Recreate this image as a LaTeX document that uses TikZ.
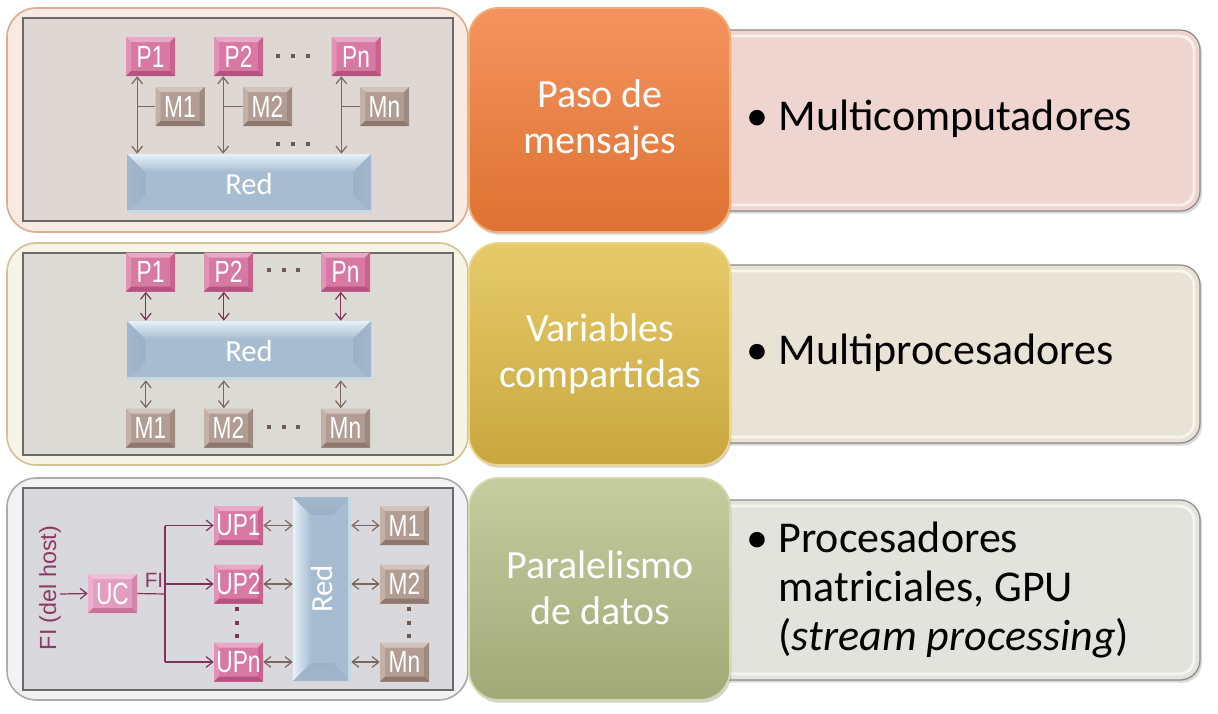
\documentclass[tikz,border=0pt]{standalone}
\usepackage{fontspec}
\setmainfont{Carlito}
\newfontfamily\arialn[FakeStretch=0.74]{Liberation Sans}
\newfontfamily\arialf{Liberation Sans}
\usetikzlibrary{arrows.meta,shadows,calc}
% colours
\definecolor{orT}{HTML}{F5935F}\definecolor{orB}{HTML}{DD7232}\definecolor{orRim}{HTML}{F2AE72}
\definecolor{yeT}{HTML}{E6CA6A}\definecolor{yeB}{HTML}{C9A73F}\definecolor{yeRim}{HTML}{EDD68A}
\definecolor{grT}{HTML}{C5CDA0}\definecolor{grB}{HTML}{A0A977}\definecolor{grRim}{HTML}{D3DAB2}
\definecolor{rPink}{HTML}{EED5CF}\definecolor{rBeige}{HTML}{E9E3D6}\definecolor{rGray}{HTML}{E2E3DC}
\definecolor{rBorder}{HTML}{8E8885}
\definecolor{oA}{HTML}{F8E9E2}\definecolor{oAb}{HTML}{DEAA90}
\definecolor{oB}{HTML}{F6F3E7}\definecolor{oBb}{HTML}{CFC293}
\definecolor{oC}{HTML}{F1F2F3}\definecolor{oCb}{HTML}{ABABAD}
\definecolor{iA}{HTML}{DED7D3}\definecolor{iB}{HTML}{DCDAD4}\definecolor{iC}{HTML}{D9D8DC}
\definecolor{iBorder}{HTML}{6A6A6A}
\definecolor{pkF}{HTML}{D879A3}\definecolor{pkT}{HTML}{E9A8C5}\definecolor{pkL}{HTML}{E093B6}\definecolor{pkR}{HTML}{C8628F}\definecolor{pkB}{HTML}{B65280}
\definecolor{ucF}{HTML}{E39DC0}\definecolor{ucT}{HTML}{F0C0D6}\definecolor{ucL}{HTML}{EAB0CB}\definecolor{ucR}{HTML}{D486AC}\definecolor{ucB}{HTML}{C97499}
\definecolor{bnF}{HTML}{B19D93}\definecolor{bnT}{HTML}{D2C4BC}\definecolor{bnL}{HTML}{C3B1A8}\definecolor{bnR}{HTML}{9F8A80}\definecolor{bnB}{HTML}{8E786E}
\definecolor{blF}{HTML}{A8BCD1}\definecolor{blHi}{HTML}{E6F1F9}\definecolor{blS}{HTML}{9CB1C8}\definecolor{blS2}{HTML}{A2B6CC}\definecolor{blEdge}{HTML}{C8D7E6}
\definecolor{brArr}{HTML}{7D675D}\definecolor{mgArr}{HTML}{7E3459}\definecolor{fiC}{HTML}{8B3A64}
\definecolor{dotBr}{HTML}{6F5A50}
\newcommand\mydotrow[1]{\rule{3pt}{3pt}\hspace{#1}\rule{3pt}{3pt}\hspace{#1}\rule{3pt}{3pt}}
\tikzset{
  >={Straight Barb[length=5pt,width=8pt]},
  bevel/.style n args={5}{path picture={
      \path (path picture bounding box.north west) coordinate (bvA)
            (path picture bounding box.north east) coordinate (bvB)
            (path picture bounding box.south east) coordinate (bvC)
            (path picture bounding box.south west) coordinate (bvD);
      \path ([shift={(#1,-#1)}]bvA) coordinate (bva)
            ([shift={(-#1,-#1)}]bvB) coordinate (bvb)
            ([shift={(-#1,#1)}]bvC) coordinate (bvc)
            ([shift={(#1,#1)}]bvD) coordinate (bvd);
      \fill[#2] (bvA)--(bvB)--(bvb)--(bva)--cycle;
      \fill[#3] (bvA)--(bva)--(bvd)--(bvD)--cycle;
      \fill[#4] (bvB)--(bvC)--(bvc)--(bvb)--cycle;
      \fill[#5] (bvD)--(bvC)--(bvc)--(bvd)--cycle;
  }},
  redbevH/.style={path picture={
      \path (path picture bounding box.north west) coordinate (bvA)
            (path picture bounding box.north east) coordinate (bvB)
            (path picture bounding box.south east) coordinate (bvC)
            (path picture bounding box.south west) coordinate (bvD);
      \path ([shift={(#1,-#1)}]bvA) coordinate (bva)
            ([shift={(-#1,-#1)}]bvB) coordinate (bvb)
            ([shift={(-#1,#1)}]bvC) coordinate (bvc)
            ([shift={(#1,#1)}]bvD) coordinate (bvd);
      \shade[top color=blHi, bottom color=blF] (bvA)--(bvB)--(bvb)--(bva)--cycle;
      \shade[left color=blS2, right color=blS] (bvA)--(bva)--(bvd)--(bvD)--cycle;
      \shade[left color=blS, right color=blS2] (bvB)--(bvC)--(bvc)--(bvb)--cycle;
      \fill[blEdge] (bvD)--(bvC)--([yshift=2pt]bvC)--([yshift=2pt]bvD)--cycle;
  }},
  redbevV/.style={path picture={
      \path (path picture bounding box.north west) coordinate (bvA)
            (path picture bounding box.north east) coordinate (bvB)
            (path picture bounding box.south east) coordinate (bvC)
            (path picture bounding box.south west) coordinate (bvD);
      \path ([shift={(#1,-#1)}]bvA) coordinate (bva)
            ([shift={(-#1,-#1)}]bvB) coordinate (bvb)
            ([shift={(-#1,#1)}]bvC) coordinate (bvc)
            ([shift={(#1,#1)}]bvD) coordinate (bvd);
      \shade[left color=blHi, right color=blF] (bvA)--(bva)--(bvd)--(bvD)--cycle;
      \shade[top color=blS2, bottom color=blS] (bvA)--(bvB)--(bvb)--(bva)--cycle;
      \shade[top color=blS, bottom color=blS2] (bvD)--(bvC)--(bvc)--(bvd)--cycle;
      \fill[blEdge] (bvB)--(bvC)--([xshift=-2pt]bvC)--([xshift=-2pt]bvB)--cycle;
  }},
  bx/.style={rectangle, inner sep=0pt, minimum width=36.75pt, minimum height=29.25pt,
             text=white, font=\arialn\fontsize{23}{23}\selectfont},
  pbox/.style={bx, fill=pkF, bevel={3.75pt}{pkT}{pkL}{pkR}{pkB}},
  ucbox/.style={bx, fill=ucF, bevel={3.75pt}{ucT}{ucL}{ucR}{ucB}},
  mbox/.style={bx, fill=bnF, bevel={3.75pt}{bnT}{bnL}{bnR}{bnB}},
  redh/.style={rectangle, inner sep=0pt, minimum width=183pt, minimum height=44.25pt,
             fill=blF, redbevH={13.5pt}, text=white, font=\fontsize{23}{23}\selectfont},
  redv/.style={rectangle, inner sep=0pt, minimum width=43.5pt, minimum height=138pt,
             fill=blF, redbevV={13.5pt}, text=white, font=\fontsize{23}{23}\selectfont},
  arr/.style={line width=0.9pt, draw=#1},
  dotn/.style={inner sep=0pt, text=#1},
  outerp/.style={rounded corners=22pt, line width=1.2pt},
  innerp/.style={draw=iBorder, line width=1.6pt},
  mid/.style={rounded corners=22pt, draw=#1, line width=1.4pt,
              drop shadow={opacity=0.35, shadow xshift=1pt, shadow yshift=-2pt}},
  midtxt/.style={text=white, align=center, font=\fontsize{30}{34.5}\selectfont},
  rbox/.style={rounded corners=15pt, draw=rBorder, line width=0.9pt,
              drop shadow={opacity=0.3, shadow xshift=1.5pt, shadow yshift=-2pt}},
  rglow/.style={rounded corners=11pt, draw=white, opacity=0.65, line width=2.2pt},
  rtxt/.style={anchor=west, align=left, text=black, font=\fontsize{33}{36.4}\selectfont},
}
\begin{document}
\begin{tikzpicture}[x=0.75pt,y=-0.75pt]
\useasboundingbox (0,0) rectangle (1218,714);

% ---------- left panels ----------
\path[outerp, fill=oA, draw=oAb] (7,8) rectangle (468,232);
\path[innerp, fill=iA] (23,18) rectangle (453,221);
\path[outerp, fill=oB, draw=oBb] (7,243) rectangle (468,465);
\path[innerp, fill=iB] (23,253) rectangle (453,455);
\path[outerp, fill=oC, draw=oCb] (7,478) rectangle (468,700);
\path[innerp, fill=iC] (23,488) rectangle (453,690);

% ---------- right boxes ----------
\path[rbox, fill=rPink] (700,30) rectangle (1200,211);
\path[rglow] (706,36) rectangle (1194,205);
\path[rbox, fill=rBeige] (700,265) rectangle (1200,443);
\path[rglow] (706,271) rectangle (1194,437);
\path[rbox, fill=rGray] (700,500) rectangle (1200,680);
\path[rglow] (706,506) rectangle (1194,674);

% ---------- middle boxes ----------
\path[mid=orRim, top color=orT, bottom color=orB] (469,8) rectangle (730,232);
\path[mid=yeRim, top color=yeT, bottom color=yeB] (469,243) rectangle (730,465);
\path[mid=grRim, top color=grT, bottom color=grB] (469,478) rectangle (730,700);

\node[midtxt] (t1) at (600,120) {Paso de\\mensajes};
\node[midtxt] (t2) at (600,354) {Variables\\compartidas};
\node[midtxt] (t3) at (600,588) {Paralelismo\\de datos};

\node[rtxt] (r1) at (742,119) {• Multicomputadores};
\node[rtxt] (r2) at (742,353) {• Multiprocesadores};
\node[rtxt] (r3) at (742,590) {• Procesadores\\\hphantom{• }matriciales, GPU\\\hphantom{• }(\textit{stream processing})};

% ---------- panel 1: paso de mensajes ----------
\node[pbox] (aP1) at (150.5,56.5) {P1};
\node[pbox] (aP2) at (238.5,56.5) {P2};
\node[pbox] (aPn) at (356,56.5) {Pn};
\node[mbox] (aM1) at (180,106.5) {M1};
\node[mbox] (aM2) at (267.5,106.5) {M2};
\node[mbox] (aMn) at (384.5,106.5) {Mn};
\node[redh] (aR) at (249,183.5) {Red};
\node[dotn=dotBr] (ad1) at (293,56) {\mydotrow{8pt}};
\node[dotn=dotBr] (ad2) at (293,144) {\mydotrow{8pt}};
\coordinate (a1) at ([xshift=-10pt]aP1.south);
\coordinate (a2) at ([xshift=-11.5pt]aP2.south);
\coordinate (a3) at ([xshift=-11pt]aPn.south);
\foreach \c/\m in {a1/aM1,a2/aM2,a3/aMn}{
  \draw[arr=brArr,<->] (\c) -- (\c |- aR.north);
  \draw[arr=brArr] (\m.west) -- (\m.west -| \c);
}

% ---------- panel 2: variables compartidas ----------
\node[pbox] (bP1) at (150.5,272) {P1};
\node[pbox] (bP2) at (228.5,272) {P2};
\node[pbox] (bPn) at (345.5,272) {Pn};
\node[redh] (bR) at (249,350.5) {Red};
\node[mbox] (bM1) at (150.5,428) {M1};
\node[mbox] (bM2) at (228.5,428) {M2};
\node[mbox] (bMn) at (345.5,428) {Mn};
\node[dotn=dotBr] (bd1) at (283.5,270) {\mydotrow{8pt}};
\node[dotn=dotBr] (bd2) at (283.5,427) {\mydotrow{8pt}};
\foreach \p/\m in {bP1/bM1,bP2/bM2,bPn/bMn}{
  \draw[arr=mgArr,<->] ([xshift=-3.5pt]\p.south) -- ([xshift=-3.5pt]\p.south |- bR.north);
  \draw[arr=brArr,<->] ([xshift=-3.5pt]\m.north |- bR.south) -- ([xshift=-3.5pt]\m.north);
}

% ---------- panel 3: paralelismo de datos ----------
\node[text=fiC, inner sep=0pt, font=\arialf\fontsize{17.5}{17.5}\selectfont] (cFI) at (50,588) {\rotatebox{90}{FI (del host)}};
\node[ucbox] (cUC) at (112.5,593.5) {UC};
\node[text=fiC, inner sep=0pt, font=\arialf\fontsize{15.5}{15.5}\selectfont] (cFIl) at (154,580) {FI};
\node[pbox] (cU1) at (238.5,525.5) {UP1};
\node[pbox] (cU2) at (238.5,584) {UP2};
\node[pbox] (cUn) at (238.5,662) {UPn};
\node[redv] (cR) at (322,589) {\rotatebox{90}{Red}};
\node[mbox] (cM1) at (404.5,525.5) {M1};
\node[mbox] (cM2) at (404.5,584) {M2};
\node[mbox] (cMn) at (404.5,662) {Mn};
\node[dotn=mgArr] (cd1) at (237,622.5) {\rotatebox{90}{\mydotrow{7pt}}};
\node[dotn=dotBr] (cd2) at (409,622.5) {\rotatebox{90}{\mydotrow{7pt}}};
\coordinate (cin) at (60,594);
\coordinate (cj) at (165,594);
\coordinate (cjt) at (165,525.5);
\coordinate (cjb) at (165,662);
\draw[arr=mgArr,->] (cin) -- (cUC.west);
\draw[arr=mgArr] (cUC.east) -- (cj);
\draw[arr=mgArr] (cjt) -- (cjb);
\draw[arr=mgArr,->] (cjt) -- (cU1.west);
\draw[arr=mgArr,->] (cU2.west -| cj) -- (cU2.west);
\draw[arr=mgArr,->] (cjb) -- (cUn.west);
\foreach \u/\m in {cU1/cM1,cU2/cM2,cUn/cMn}{
  \draw[arr=brArr,<->] (\u.east) -- (\u.east -| cR.west);
  \draw[arr=brArr,<->] (\m.west -| cR.east) -- (\m.west);
}
\end{tikzpicture}
\end{document}
